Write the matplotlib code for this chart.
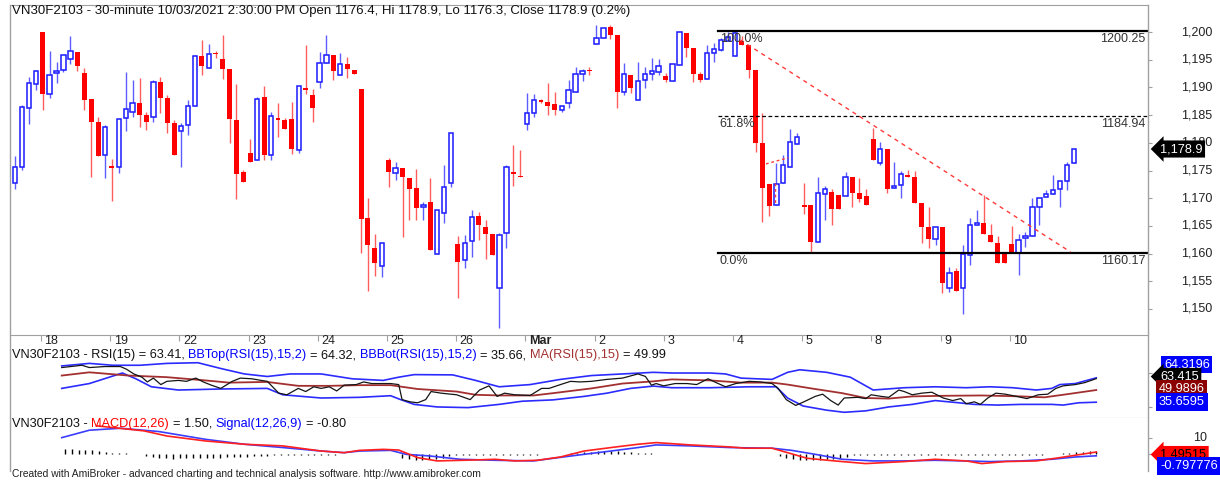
import numpy as np
import matplotlib.pyplot as plt
from matplotlib.lines import Line2D
from matplotlib.text import Annotation
from matplotlib.transforms import blended_transform_factory

plt.rcParams['font.family'] = ['Liberation Sans', 'DejaVu Sans']

# 30-minute bars, VN30F2103, 17 Feb (last 4 bars) .. 10 Mar 2021
opens = [
    1172.7, 1175.6, 1186.3, 1190.6,
    1200.0, 1188.8, 1192.6, 1193.1, 1195.1, 1196.4, 1192.6, 1187.9, 1183.8, 1177.8,
    1175.7, 1175.6, 1184.5, 1185.6, 1187.2, 1185.0, 1184.7, 1191.0, 1188.1, 1183.6,
    1182.1, 1183.2, 1186.6, 1195.7, 1193.5, 1196.2, 1195.1, 1193.3, 1184.1, 1174.7,
    1178.2, 1176.9, 1188.3, 1177.8, 1184.4, 1184.1, 1184.3, 1178.7, 1189.8, 1188.6,
    1191.0, 1194.4, 1195.8, 1192.2, 1194.2, 1193.1, 1189.7, 1166.4, 1161.0, 1157.8,
    1176.9, 1174.5, 1175.5, 1173.6, 1171.8, 1168.4, 1169.3, 1159.9, 1167.3, 1172.7,
    1161.7, 1158.8, 1162.3, 1166.8, 1164.8, 1163.5, 1153.8, 1163.7, 1174.7, 1173.9,
    1183.4, 1185.4, 1187.6, 1187.4, 1187.0, 1185.9, 1187.2, 1189.2, 1192.4, 1193.1,
    1197.8, 1198.9, 1200.9, 1199.5, 1189.2, 1192.2, 1187.7, 1191.3, 1192.4, 1192.8,
    1192.1, 1191.2, 1194.0, 1199.8, 1197.1, 1192.4, 1191.5, 1196.2, 1196.8, 1198.4,
    1195.7, 1198.4, 1197.7, 1193.1, 1180.0, 1172.6, 1168.8, 1172.7, 1175.6, 1179.8,
    1168.8, 1168.8, 1162.1, 1170.8, 1171.1, 1170.6, 1170.4, 1173.8, 1170.9, 1170.4,
    1180.7, 1176.4, 1178.9, 1171.8, 1172.4, 1174.2, 1173.8, 1169.1, 1164.8, 1162.6,
    1164.8, 1153.8, 1156.9, 1153.8, 1159.7, 1165.2, 1165.5, 1163.4, 1161.9, 1160.3,
    1161.7, 1160.1, 1162.8, 1163.2, 1168.4, 1170.2, 1170.8, 1171.7, 1173.1, 1176.4,
]
highs = [
    1177.6, 1186.8, 1191.9, 1193.1,
    1200.0, 1196.6, 1194.6, 1195.9, 1199.3, 1196.4, 1193.5, 1187.9, 1184.7, 1183.2,
    1177.1, 1184.3, 1192.8, 1191.3, 1191.7, 1185.6, 1191.3, 1191.9, 1188.6, 1184.1,
    1183.6, 1187.7, 1195.9, 1198.6, 1197.8, 1196.6, 1199.5, 1193.3, 1190.6, 1175.1,
    1180.7, 1188.3, 1190.3, 1185.6, 1187.2, 1184.5, 1187.4, 1190.3, 1197.7, 1189.7,
    1196.4, 1199.5, 1195.8, 1196.2, 1195.5, 1193.1, 1189.7, 1170.0, 1163.5, 1161.9,
    1177.3, 1176.5, 1175.5, 1173.6, 1175.3, 1169.3, 1173.6, 1167.9, 1176.0, 1181.8,
    1163.2, 1163.4, 1167.9, 1167.5, 1166.1, 1163.5, 1163.7, 1176.0, 1179.6, 1178.7,
    1189.0, 1188.8, 1187.9, 1190.8, 1189.2, 1186.6, 1191.3, 1193.7, 1193.3, 1193.7,
    1201.3, 1200.8, 1201.3, 1199.5, 1194.4, 1192.2, 1194.6, 1193.7, 1195.3, 1195.1,
    1192.6, 1194.2, 1200.0, 1199.8, 1197.1, 1192.8, 1197.7, 1198.0, 1198.9, 1200.0,
    1200.25, 1199.3, 1197.7, 1193.1, 1185.4, 1172.6, 1176.4, 1177.8, 1182.5, 1181.8,
    1172.7, 1168.8, 1173.8, 1172.2, 1171.7, 1170.6, 1174.7, 1173.8, 1173.6, 1171.7,
    1182.7, 1180.1, 1178.9, 1176.5, 1174.9, 1175.1, 1174.9, 1169.1, 1168.4, 1164.8,
    1164.8, 1157.6, 1157.4, 1161.6, 1166.4, 1167.9, 1170.6, 1165.3, 1163.2, 1160.3,
    1165.0, 1163.5, 1163.9, 1170.0, 1170.0, 1171.5, 1174.2, 1173.1, 1176.5, 1178.9,
]
lows = [
    1171.7, 1175.1, 1183.4, 1189.5,
    1185.9, 1188.1, 1190.8, 1192.8, 1194.2, 1193.0, 1185.9, 1173.8, 1177.6, 1173.6,
    1169.5, 1174.5, 1182.1, 1184.7, 1182.9, 1182.3, 1183.8, 1185.4, 1181.8, 1177.8,
    1175.6, 1181.4, 1186.6, 1192.2, 1193.5, 1195.3, 1191.5, 1180.0, 1169.9, 1172.9,
    1176.5, 1176.9, 1176.9, 1176.9, 1181.0, 1182.5, 1178.0, 1178.2, 1188.8, 1183.8,
    1189.9, 1194.4, 1191.3, 1192.2, 1191.7, 1192.4, 1160.1, 1153.2, 1156.0, 1155.8,
    1172.0, 1173.3, 1163.0, 1166.1, 1166.1, 1166.1, 1160.7, 1159.9, 1165.5, 1172.0,
    1152.0, 1157.4, 1159.4, 1162.5, 1159.0, 1159.7, 1146.6, 1161.0, 1172.2, 1173.8,
    1182.3, 1184.7, 1187.2, 1185.0, 1185.0, 1185.6, 1186.3, 1189.2, 1191.2, 1192.2,
    1197.8, 1198.9, 1198.7, 1186.3, 1188.6, 1189.0, 1187.7, 1189.9, 1191.3, 1192.2,
    1191.0, 1191.2, 1194.0, 1195.5, 1191.0, 1191.0, 1191.5, 1194.6, 1196.6, 1198.4,
    1195.7, 1197.7, 1191.7, 1178.3, 1165.7, 1166.8, 1168.8, 1172.7, 1175.6, 1179.8,
    1167.2, 1160.1, 1162.1, 1166.1, 1165.2, 1168.1, 1170.4, 1168.4, 1169.3, 1168.8,
    1176.9, 1176.0, 1170.9, 1171.8, 1170.0, 1173.8, 1169.1, 1161.9, 1161.0, 1161.6,
    1152.9, 1153.1, 1153.2, 1149.1, 1157.9, 1165.2, 1163.5, 1162.1, 1158.3, 1158.3,
    1160.1, 1156.1, 1161.2, 1163.2, 1165.2, 1170.2, 1170.8, 1168.4, 1171.5, 1176.3,
]
closes = [
    1175.6, 1186.5, 1190.8, 1193.0,
    1188.8, 1192.2, 1192.8, 1195.8, 1196.6, 1193.9, 1187.7, 1183.8, 1177.6, 1182.9,
    1175.5, 1184.3, 1186.1, 1187.2, 1185.0, 1183.8, 1191.0, 1188.1, 1183.6, 1177.8,
    1183.0, 1186.6, 1195.7, 1193.9, 1196.0, 1196.0, 1193.3, 1184.3, 1174.4, 1172.9,
    1176.5, 1187.9, 1177.8, 1184.8, 1184.2, 1182.5, 1178.9, 1190.3, 1189.6, 1186.3,
    1194.4, 1195.8, 1193.0, 1194.2, 1193.3, 1192.4, 1166.2, 1161.6, 1158.3, 1161.9,
    1174.7, 1175.5, 1173.8, 1171.7, 1168.2, 1168.8, 1160.7, 1167.9, 1172.0, 1181.8,
    1158.5, 1161.9, 1166.6, 1165.2, 1163.5, 1159.7, 1163.4, 1175.6, 1174.4, 1173.8,
    1185.4, 1187.7, 1187.4, 1186.6, 1185.9, 1186.6, 1189.5, 1192.4, 1193.0, 1192.9,
    1198.9, 1200.7, 1199.5, 1189.2, 1192.4, 1189.9, 1191.2, 1192.4, 1193.0, 1193.9,
    1191.3, 1194.2, 1200.0, 1197.1, 1192.4, 1191.3, 1196.2, 1196.9, 1198.6, 1199.1,
    1199.8, 1197.7, 1193.1, 1180.0, 1171.8, 1168.6, 1172.6, 1176.0, 1180.1, 1181.0,
    1168.4, 1162.1, 1170.9, 1171.7, 1168.1, 1168.1, 1173.8, 1170.9, 1169.9, 1168.8,
    1176.9, 1178.9, 1171.7, 1172.2, 1174.4, 1173.8, 1169.1, 1164.8, 1162.6, 1164.8,
    1154.7, 1156.5, 1153.2, 1159.9, 1165.2, 1165.3, 1163.5, 1162.1, 1158.3, 1158.3,
    1160.1, 1162.5, 1163.2, 1168.4, 1170.0, 1170.8, 1171.5, 1173.1, 1176.0, 1178.9,
]

day_starts = [4, 14, 24, 34, 44, 54, 64, 74, 84, 94, 104, 114, 124, 134, 144]
day_labels = ['18', '19', '22', '23', '24', '25', '26', 'Mar', '2', '3', '4', '5', '8', '9', '10']
price_ticks = [1150, 1155, 1160, 1165, 1170, 1175, 1180, 1185, 1190, 1195, 1200]

fib_levels = [1200.25, 1184.94, 1160.17]
fib_labels = ['100.0%', '61.8%', '0.0%']
fib_values = ['1200.25', '1184.94', '1160.17']
trend_x = [104.8, 152.5]
trend_y = [1198.6, 1160.3]

rsi_x = [-0.5, 2.5, 3.6, 5.9, 8.2, 9.1, 10.2, 11.4, 12.2, 13.1, 14.2, 15.1, 16.8, 18.0, 19.4,
         20.5, 21.7, 23.1, 24.8, 26.0, 27.7, 29.1, 30.0, 31.7, 32.9, 34.6, 35.7, 36.9, 38.0,
         39.2, 40.3, 41.4, 43.2, 44.3, 45.5, 48.3, 49.5, 50.0, 51.2, 52.3, 53.5, 54.3, 55.8,
         58.1, 60.1, 61.5, 62.9, 64.1, 65.2, 66.7, 69.0, 70.7, 71.8, 73.5, 75.0, 76.4, 78.1,
         80.4, 82.7, 85.0, 86.1, 87.0, 87.7, 88.8, 90.5, 92.3, 93.7, 95.4, 96.6, 98.0, 99.5,
         101.5, 103.2, 104.9, 105.8, 107.0, 108.4, 109.5, 111.3, 112.4, 113.6, 114.7, 115.6,
         117.6, 118.8, 119.6, 121.1, 122.2, 123.7, 124.5, 125.7, 127.1, 128.6, 130.3, 131.7,
         132.9, 133.7, 134.9, 135.8, 136.9, 138.1, 139.5, 141.2, 142.7, 144.4, 145.8, 147.0,
         148.1, 149.9, 151.3, 153.0]
rsi_v = [76.4, 79.1, 76.4, 77.6, 77.6, 74.5, 68.9, 65.1, 59.5, 64.0, 56.4, 60.2, 61.3, 60.2, 64.0,
         59.5, 55.7, 51.9, 60.2, 64.0, 63.2, 61.3, 60.2, 46.3, 44.4, 51.9, 48.2, 53.8, 51.9,
         53.8, 48.9, 55.7, 56.4, 59.5, 57.6, 57.6, 56.4, 38.7, 36.1, 35.0, 38.7, 48.2, 46.3,
         44.4, 38.7, 50.0, 54.9, 42.5, 46.3, 44.4, 43.6, 51.9, 51.9, 56.4, 60.2, 59.5, 60.2,
         62.5, 64.0, 68.9, 66.0, 55.7, 57.6, 54.9, 57.6, 57.6, 56.4, 63.2, 58.7, 53.8, 57.6,
         60.2, 59.5, 57.6, 51.9, 38.7, 31.9, 35.7, 42.5, 45.1, 37.6, 32.3, 40.6,
         41.4, 39.9, 44.4, 42.5, 41.4, 50.0, 48.2, 44.4, 46.3, 47.4, 40.6, 37.6,
         39.9, 33.8, 36.1, 33.1, 40.6, 46.3, 45.1, 42.5, 39.9, 44.4, 45.1, 51.9,
         54.9, 56.4, 58.7, 63.41]
bbtop_x = [-0.5, 3.6, 7.1, 11.1, 15.1, 19.7, 23.1, 26.6, 30.0, 33.4, 38.0, 42.6, 47.2, 49.5, 51.8,
           57.5, 60.9, 64.4, 69.0, 73.5, 78.1, 82.7, 87.3, 90.0, 95.7, 98.0, 100.3, 102.6, 104.9,
           107.2, 109.0, 113.0, 116.5, 119.9, 124.5, 129.1, 133.7, 137.2, 140.6, 144.1, 146.4,
           147.6, 149.9, 153.0]
bbtop_v = [78.3, 81.3, 79.1, 79.1, 81.3, 82.1, 75.3, 68.9, 65.9, 68.9, 68.9, 63.2, 61.3, 65.1, 68.1,
           67.8, 61.3, 53.8, 56.4, 62.5, 67.0, 68.9, 70.8, 70.0, 70.0, 68.9, 64.0, 63.2, 62.5,
           70.8, 73.8, 70.8, 65.1, 50.0, 52.7, 53.8, 52.7, 53.8, 52.7, 50.0, 51.9,
           56.4, 57.6, 64.32]
bbbot_x = [-0.5, 3.6, 8.5, 10.5, 12.8, 16.8, 23.1, 30.0, 32.3, 38.0, 43.7, 48.3, 49.8, 51.8, 55.2,
           59.8, 64.4, 67.8, 72.4, 77.0, 80.4, 83.9, 87.3, 90.0, 95.7, 101.5, 105.5, 107.2, 109.5,
           113.0, 115.6, 118.8, 122.2, 125.7, 129.1, 132.6, 134.9, 138.3, 141.8, 146.4, 148.1,
           150.4, 153.0]
bbbot_v = [51.9, 57.6, 70.0, 63.2, 53.8, 50.0, 51.2, 51.9, 44.4, 40.6, 41.4, 43.3, 38.7, 33.1, 30.1,
           29.3, 33.1, 36.8, 38.4, 42.5, 46.3, 51.9, 54.6, 52.7, 52.7, 53.8, 53.8, 40.6, 31.2,
           26.3, 23.8, 25.5, 30.1, 33.1, 37.6, 35.0, 33.1, 32.3, 33.1, 33.1, 32.3,
           35.0, 35.66]
ma_x = [-0.5, 3.6, 9.4, 15.1, 20.8, 24.3, 30.0, 34.6, 39.2, 43.7, 48.3, 52.3, 58.1, 60.9, 64.4,
        69.5, 72.4, 78.1, 82.7, 87.3, 90.0, 95.7, 100.3, 104.9, 107.2, 110.7, 115.3, 118.8,
        122.2, 125.7, 130.3, 136.0, 141.8, 145.3, 148.7, 153.0]
ma_v = [67.0, 70.8, 67.0, 65.1, 61.3, 58.7, 59.5, 54.9, 54.9, 55.7, 55.7, 51.2, 48.2, 44.4, 43.6,
        43.6, 46.3, 51.9, 57.6, 60.2, 62.5, 61.3, 58.7, 58.7, 56.4, 51.9, 46.3, 40.6,
        39.9, 42.5, 43.2, 43.6, 42.5, 41.4, 45.1, 49.99]

# MACD(12,26) and Signal(12,26,9)
macd_x = [4.8, 11.7, 15.1, 20.8, 26.6, 32.3, 38.0, 41.4, 43.7, 47.2, 49.5, 52.3, 55.2, 60.9, 63.8,
          66.7, 70.1, 73.5, 77.0, 81.0, 85.0, 87.7, 92.8, 98.6, 100.9, 104.9, 107.2, 110.1,
          114.2, 118.8, 124.5, 129.1, 133.7, 136.0, 139.5, 144.1, 147.6, 153.0]
macd_v = [17.3, 14.3, 11.2, 8.2, 6.2, 5.2, 2.1, 1.1, 2.5, 3.1, 2.7, -1.9, -3.9, -3.3, -2.9,
          -3.9, -3.5, -1.5, 2.1, 4.2, 6.2, 7.2, 5.8, 4.6, 3.8, 3.8, 1.1, -2.3,
          -3.9, -5.5, -4.3, -2.9, -3.9, -5.5, -4.3, -3.9, -1.9, 1.50]
signal_x = [-0.5, 3.6, 8.2, 13.9, 20.8, 26.6, 32.3, 38.0, 41.4, 43.7, 48.3, 50.6, 54.1, 58.6, 63.8,
            69.5, 72.4, 77.0, 81.0, 85.0, 87.7, 92.8, 98.6, 104.9, 107.8, 111.3, 115.3, 119.9,
            124.5, 129.1, 133.7, 137.2, 141.8, 146.4, 149.9, 153.0]
signal_v = [10.2, 14.7, 15.9, 13.9, 9.2, 6.2, 4.2, 2.1, 1.1, 2.1, 2.5, 0.1, -0.9, -2.9, -3.5,
            -3.9, -2.3, 0.1, 2.1, 4.2, 5.8, 5.2, 4.2, 3.8, 2.5, 0.1, -2.9, -3.9,
            -3.9, -3.5, -3.9, -4.3, -3.9, -2.9, -1.5, -0.80]
macd_hist = [
    3.2, 3.2, 3.0, 2.8,
    2.5, 2.0, 1.5, 1.2, 1.0, 0.6, 0.3, 0.2, -1.2, -1.8,
    -2.2, -2.4, -2.5, -2.4, -2.3, -2.3, -2.2, -2.0, -2.0, -1.9,
    -1.8, -1.7, -1.5, -1.3, -1.2, -1.0, -0.8, -0.6, -0.4, -0.2,
    -0.3, -0.3, -0.2, -0.3, -0.2, -0.2, -0.1, 0.1, 0.2, 0.2,
    0.2, 0.2, 0.1, 0.1, 0.1, 0.0, -2.0, -3.0, -3.5, -3.5,
    -3.0, -2.5, -2.0, -1.2, -0.6, -0.3, -0.3, -0.2, -0.2, -0.2,
    -0.3, -0.3, -0.2, -0.2, -0.2, -0.3, -0.2, 0.2, 0.3, 0.3,
    0.5, 0.8, 1.2, 1.5, 1.8, 2.0, 2.2, 2.2, 2.0, 1.8,
    1.5, 1.2, 1.0, 0.8, 0.3, 0.3, 0.2, 0.2, 0.2, 0.2,
    0.2, 0.2, 0.3, 0.3, 0.2, 0.2, 0.2, 0.2, 0.2, 0.2,
    0.1, 0.1, -1.0, -2.0, -2.8, -3.2, -3.5, -3.5, -3.2, -2.8,
    -2.5, -2.0, -1.5, -0.3, -0.3, -0.2, -0.2, -0.2, -0.2, -0.3,
    -0.2, -0.2, -0.2, -0.2, -0.2, -0.2, -0.2, -0.3, -0.3, -0.3,
    -0.3, -0.3, -0.3, -0.2, -0.2, -0.2, -0.2, -0.2, -0.2, -0.2,
    -0.1, -0.1, 0.2, 0.5, 0.8, 1.0, 1.3, 1.6, 2.0, 2.3,
]

W, H = 1220, 480
GRAY = '#a0a0a0'
fig = plt.figure(figsize=(W / 100, H / 100), dpi=100)


def fx(px):
    return px / W


def fy(py):
    return 1 - py / H


def pane(top, bottom):
    return fig.add_axes([fx(10), fy(bottom), fx(1148) - fx(10), fy(top) - fy(bottom)])


ax = pane(5, 335)
ax_rsi = pane(348, 418)
ax_macd = pane(418, 471)

# ---- price pane
o, h, l, c = map(np.array, (opens, highs, lows, closes))
idx = np.arange(len(c))
up = c >= o
body = np.maximum(np.abs(c - o), 0.3)
ax.vlines(idx[up], l[up], h[up], color='#5c5cff', lw=1, zorder=2)
ax.vlines(idx[~up], l[~up], h[~up], color='#ff5c5c', lw=1, zorder=2)
ax.bar(idx[up], body[up], bottom=o[up], width=0.64, facecolor='white',
       edgecolor='#1a1aff', lw=1.1, zorder=3)
ax.bar(idx[~up], body[~up], bottom=c[~up], width=0.72, color='#ff0000', lw=0, zorder=3)

fib_start = 101.6
for lvl, lab, val, ls, lw in zip(fib_levels, fib_labels, fib_values,
                                 ['-', (0, (3, 2)), '-'], [1.6, 0.9, 1.6]):
    ax.plot([fib_start, 163.7], [lvl, lvl], color='black', ls=ls, lw=lw, zorder=4)
    ax.annotate(lab, xy=(fib_start, lvl), xytext=(1, -1.5), textcoords='offset points',
                ha='left', va='top', fontsize=9, color='#333333', zorder=5)
    ax.annotate(val, xy=(1, lvl), xycoords=('axes fraction', 'data'), xytext=(-2, -1.5),
                textcoords='offset points', ha='right', va='top', fontsize=9, color='#333333')

ax.plot(trend_x, trend_y, color='#ff3a3a', ls=(0, (3, 3)), lw=1, zorder=4)
ax.plot([108.5, 111.7], [1176.2, 1177.3], color='#ff3a3a', ls=(0, (2, 2)), lw=1, zorder=4)
ax.plot([109.8, 109.8], [1172.7, 1168.8], color='#ff3a3a', ls=(0, (2, 2)), lw=1, zorder=4)

ax.set_xlim(-0.72, 163.7)
ax.set_ylim(1145.3, 1204.9)

# ---- RSI pane
ax_rsi.plot(bbtop_x, bbtop_v, color='#2b2bff', lw=1.2)
ax_rsi.plot(bbbot_x, bbbot_v, color='#2b2bff', lw=1.2)
ax_rsi.plot(ma_x, ma_v, color='#a33030', lw=1.3)
ax_rsi.plot(rsi_x, rsi_v, color='#151515', lw=0.9)
ax_rsi.set_ylim(17.1, 99.4)

# ---- MACD pane
ax_macd.vlines(idx, 0, macd_hist, color='black', lw=1)
ax_macd.plot(signal_x, signal_v, color='#3c3cff', lw=1.2)
ax_macd.plot(macd_x, macd_v, color='#ff2020', lw=1.2)
ax_macd.set_ylim(-10.0, 22.1)

for a in (ax, ax_rsi, ax_macd):
    for s in a.spines.values():
        s.set_color(GRAY)
    a.spines['left'].set_visible(False)
    a.spines['right'].set_visible(False)
    a.yaxis.tick_right()
    a.tick_params(axis='y', length=3, color=GRAY, labelright=False)
ax_rsi.spines['top'].set_visible(False)
ax_macd.spines['top'].set_visible(False)
ax_macd.spines['bottom'].set_visible(False)
ax_rsi.tick_params(axis='x', length=0, labelbottom=False)
ax_macd.tick_params(axis='x', length=0, labelbottom=False)

# day ticks on the price pane
ax.set_xticks([d - 0.25 for d in day_starts])
ax.tick_params(axis='x', length=4, color=GRAY, labelbottom=False)
tday = blended_transform_factory(ax.transData, fig.transFigure)
for d, lab in zip(day_starts, day_labels):
    ax.text(d + 0.25, fy(335.5), lab, transform=tday, ha='left', va='top', fontsize=9,
            color='#222222', fontweight='bold' if lab == 'Mar' else 'normal')

# right-hand value labels
ax.set_yticks(price_ticks)
tp = blended_transform_factory(fig.transFigure, ax.transData)
for v in price_ticks:
    ax.text(fx(1212), v, f'{v:,}', transform=tp, ha='right', va='center', fontsize=9, color='#222222')
ax_rsi.set_yticks([30, 70])
tr = blended_transform_factory(fig.transFigure, ax_rsi.transData)
ax_rsi.text(fx(1205), 30, '30', transform=tr, ha='right', va='center', fontsize=9, color='#222222')
ax_macd.set_yticks([0, 10])
tm = blended_transform_factory(fig.transFigure, ax_macd.transData)
ax_macd.text(fx(1207), 10, '10', transform=tm, ha='right', va='center', fontsize=9, color='#222222')


def side_box(x_px, y_px, text, fc, tc, arrow):
    style = 'larrow,pad=0.2' if arrow else 'square,pad=0.2'
    fig.text(fx(x_px), fy(y_px), text, color=tc, fontsize=9.2, ha='left', va='center',
             bbox=dict(boxstyle=style, fc=fc, ec='none'))


side_box(1160, 149, '1,178.9', 'black', 'white', True)
side_box(1164, 364.5, '64.3196', '#0000ff', 'white', False)
side_box(1160, 376.5, '63.415', 'black', 'white', True)
side_box(1159, 388.5, '49.9896', '#8b0000', 'white', False)
side_box(1159, 402, '35.6595', '#0000ff', 'white', False)
side_box(1160, 454.5, '1.49515', '#ff0000', 'black', True)
side_box(1160, 466, '-0.797776', '#0000ff', 'white', False)

# vertical frame lines running through all panes
fig.add_artist(Line2D([fx(10), fx(10)], [fy(5), fy(471)], color=GRAY, lw=1))
fig.add_artist(Line2D([fx(1148), fx(1148)], [fy(5), fy(471)], color=GRAY, lw=1))


def title(y_px, parts, size=9.5):
    first, col = parts[0]
    prev = fig.text(fx(12), fy(y_px), first, color=col, fontsize=size, ha='left', va='center')
    for txt, col in parts[1:]:
        ann = Annotation(txt, xy=(1, 0), xycoords=prev, xytext=(size * 0.278, 0),
                         textcoords='offset points', ha='left', va='bottom', color=col,
                         fontsize=size, annotation_clip=False)
        fig.add_artist(ann)
        prev = ann


title(11, [('VN30F2103 - 30-minute 10/03/2021 2:30:00 PM Open 1176.4, Hi 1178.9, '
            'Lo 1176.3, Close 1178.9 (0.2%)', '#111111')])
title(355, [('VN30F2103 - RSI(15) = 63.41,', '#111111'),
            ('BBTop(RSI(15),15,2)', '#0000ff'), ('= 64.32,', '#111111'),
            ('BBBot(RSI(15),15,2)', '#0000ff'), ('= 35.66,', '#111111'),
            ('MA(RSI(15),15)', '#a33030'), ('= 49.99', '#111111')], size=9.2)
title(424, [('VN30F2103 -', '#111111'), ('MACD(12,26)', '#ff0000'),
            ('= 1.50,', '#111111'), ('Signal(12,26,9)', '#0000ff'),
            ('= -0.80', '#111111')], size=9.2)
fig.text(fx(12), fy(474), 'Created with AmiBroker - advanced charting and technical analysis '
         'software. http://www.amibroker.com', fontsize=7.35, color='#222222', ha='left', va='center')

plt.savefig('out.png', dpi=100)
